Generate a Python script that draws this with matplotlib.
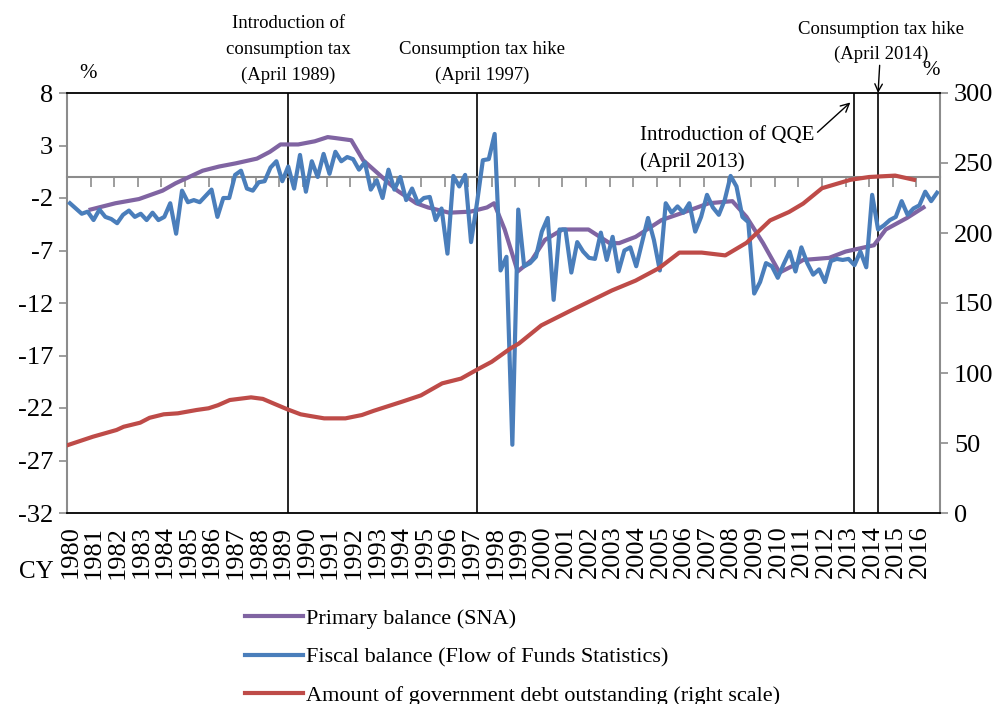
import matplotlib
matplotlib.use('Agg')
import matplotlib.pyplot as plt
import numpy as np

plt.rcParams['font.family'] = ['Liberation Serif', 'DejaVu Serif']
plt.rcParams['axes.unicode_minus'] = False

# fiscal balance (flow of funds), quarterly 1980Q1 - 2016Q4, % of GDP
fiscal = [-2.5, -3.0, -3.5, -3.3, -4.1, -3.1, -3.8, -4.0, -4.4, -3.6, -3.2, -3.8, -3.5, -4.1, -3.4, -4.1,
          -3.8, -2.5, -5.4, -1.3, -2.4, -2.2, -2.4, -1.8, -1.2, -3.8, -2.0, -2.0, 0.2, 0.6,
          -1.1, -1.3, -0.5, -0.4, 0.9, 1.5, -0.4, 1.0, -1.1, 2.1, -1.4, 1.5, 0.0, 2.2, 0.3, 2.4,
          1.5, 1.9, 1.7, 0.7, 1.4, -1.2, -0.3, -2.0, 0.7, -1.2, 0.0, -2.2, -1.1, -2.5,
          -2.0, -1.9, -4.1, -3.0, -7.3, 0.1, -0.9, 0.2, -6.2, -2.5, 1.6, 1.7, 4.1, -8.9, -7.6, -25.5,
          -3.1, -8.5, -8.2, -7.6, -5.2, -3.9, -11.7, -5.0, -5.0, -9.1, -6.2, -7.1, -7.7,
          -7.8, -5.3, -7.9, -5.7, -9.0, -7.0, -6.7, -8.5, -6.2, -3.9, -6.0, -8.9, -2.5, -3.4,
          -2.8, -3.4, -2.5, -5.2, -3.8, -1.7, -2.9, -3.6, -2.2, 0.1, -0.9, -3.8, -4.3, -11.1,
          -10.0, -8.2, -8.5, -9.6, -8.3, -7.1, -9.0, -6.7, -8.2, -9.3, -8.8, -10.0, -8.0, -7.8,
          -7.9, -7.8, -8.4, -7.1, -8.6, -1.7, -5.0, -4.6, -4.1, -3.8, -2.3, -3.6, -3.0, -2.7,
          -1.4, -2.3, -1.5]
fiscal_x = 1980 + (np.arange(len(fiscal)) + 0.5) / 4

# primary balance (SNA), %
primary_x = [1981.0, 1982.05, 1983.05, 1984.05, 1984.6, 1985.75, 1986.45, 1987.15, 1988.05, 1988.6,
             1989.05, 1989.8, 1990.5, 1991.05, 1991.4, 1992.05, 1992.55, 1993.25, 1994.0, 1994.8,
             1995.3, 1996.2, 1997.1, 1997.8, 1998.1, 1998.55, 1999.1, 1999.7, 2000.25, 2001.0,
             2002.1, 2003.0, 2003.4, 2004.1, 2005.2, 2006.1, 2007.2, 2008.2, 2008.8, 2009.5,
             2010.2, 2010.9, 2011.2, 2012.3, 2013.0, 2014.2, 2014.7, 2015.6, 2016.3]
primary = [-3.1, -2.5, -2.1, -1.3, -0.6, 0.6, 1.0, 1.3, 1.75, 2.4,
           3.1, 3.1, 3.4, 3.8, 3.7, 3.5, 1.6, 0.2, -1.3, -2.5,
           -2.9, -3.4, -3.3, -2.9, -2.5, -5.0, -9.0, -7.9, -6.0, -5.0,
           -5.0, -6.3, -6.3, -5.7, -4.1, -3.4, -2.5, -2.3, -3.8, -6.3,
           -9.1, -8.3, -7.9, -7.7, -7.1, -6.5, -5.0, -3.9, -2.9]

# government debt outstanding, % of GDP (right scale)
debt_x = [1980.05, 1981.1, 1982.1, 1982.4, 1983.1, 1983.5, 1984.1, 1984.7, 1985.5, 1986.0,
          1986.4, 1986.9, 1987.8, 1988.3, 1988.8, 1989.35, 1989.9, 1990.3, 1990.9, 1991.8,
          1992.5, 1993.0, 1994.2, 1995.0, 1995.9, 1996.7, 1997.4, 1998.0, 1998.8, 1999.15,
          2000.1, 2001.4, 2002.25, 2003.1, 2004.1, 2005.1, 2005.95, 2006.9, 2007.9, 2008.8,
          2009.8, 2010.6, 2011.2, 2012.0, 2013.2, 2014.0, 2015.1, 2015.9]
debt = [48.6, 54.5, 59.3, 61.6, 64.5, 68.0, 70.5, 71.2, 73.6, 74.8,
        77.0, 80.7, 82.6, 81.5, 77.9, 74.0, 70.5, 69.3, 67.6, 67.6,
        70.0, 73.0, 79.5, 84.0, 92.6, 96.0, 102.6, 108.0, 117.6, 121.0,
        134.0, 145.0, 152.0, 159.0, 166.0, 175.0, 186.0, 186.0, 184.0, 193.0,
        209.0, 215.0, 221.0, 232.0, 238.0, 240.0, 241.0, 238.0]

years = list(range(1980, 2017))
events = [1989.375, 1997.375, 2013.375, 2014.375]

purple = '#8064A2'
blue = '#4A7EBB'
red = '#BE4B48'
grey = '#8C8C8C'

fig = plt.figure(figsize=(10.03, 7.04), dpi=100)
ax = fig.add_axes([67 / 1003, 1 - 513 / 704, (940 - 67) / 1003, 420 / 704])
ax2 = ax.twinx()

for xe in events:
    ax.axvline(xe, color='black', lw=1.2, zorder=1)

ax.plot(primary_x, primary, color=purple, lw=3, zorder=3, label='Primary balance (SNA)')
ax.plot(fiscal_x, fiscal, color=blue, lw=3, zorder=4, label='Fiscal balance (Flow of Funds Statistics)')
ax2.plot(debt_x, debt, color=red, lw=3, label='Amount of government debt outstanding (right scale)')

ax.set_xlim(1980, 2017)
ax.set_ylim(-32, 8)
ax.set_yticks(np.arange(-32, 9, 5))
ax2.set_ylim(0, 300)
ax2.set_yticks(np.arange(0, 301, 50))

# category axis crosses at zero
ax.spines['bottom'].set_position(('data', 0))
ax.spines['bottom'].set_color(grey)
ax.spines['bottom'].set_linewidth(1.5)
ax.spines['bottom'].set_zorder(2)
ax.spines['left'].set_color(grey)
ax.spines['left'].set_linewidth(1.5)
ax.spines['top'].set_visible(False)
ax.spines['right'].set_visible(False)
ax.set_xticks(years)
ax.tick_params(axis='x', direction='out', length=7, width=1.2, color=grey, labelbottom=False)
ax.tick_params(axis='y', direction='out', length=6, width=1.2, color=grey, labelsize=19, pad=4)

ax2.spines['left'].set_visible(False)
ax2.spines['right'].set_color(grey)
ax2.spines['right'].set_linewidth(1.5)
ax2.spines['top'].set_color('black')
ax2.spines['bottom'].set_color('black')
ax2.spines['top'].set_linewidth(1.3)
ax2.spines['bottom'].set_linewidth(1.3)
ax2.tick_params(axis='y', direction='out', length=6, width=1.2, color=grey, labelsize=19, pad=4)

for yr in years:
    ax.text(yr + 0.15, -0.03, str(yr), transform=ax.get_xaxis_transform(), rotation=90,
            ha='center', va='top', fontsize=19)
ax.text(-0.055, -0.14, 'CY', transform=ax.transAxes, ha='left', va='center', fontsize=18)

ax.text(1980.9, 9.0, '%', ha='center', va='bottom', fontsize=15)
ax.text(2016.6, 9.2, '%', ha='center', va='bottom', fontsize=15)

ax.text(1989.375, 8.9, 'Introduction of\nconsumption tax\n(April 1989)', ha='center', va='bottom',
        fontsize=13.5, linespacing=1.65)
ax.text(1997.6, 8.9, 'Consumption tax hike\n(April 1997)', ha='center', va='bottom',
        fontsize=13.5, linespacing=1.65)
ax.annotate('Consumption tax hike\n(April 2014)', xy=(2014.375, 8), xytext=(2014.5, 10.9),
            ha='center', va='bottom', fontsize=13.5, linespacing=1.55, annotation_clip=False,
            arrowprops=dict(arrowstyle='->', color='black', lw=1, shrinkA=0, shrinkB=0))
ax.annotate('Introduction of QQE\n(April 2013)', xy=(2013.2, 7.1), xytext=(2004.3, 4.9),
            ha='left', va='top', fontsize=15, linespacing=1.5,
            arrowprops=dict(arrowstyle='->', color='black', lw=1, shrinkA=0, shrinkB=0,
                            relpos=(1.0, 0.8)))

handles = ax.get_lines()[len(events):] + ax2.get_lines()
fig.legend(handles=handles, labels=[h.get_label() for h in handles], loc='center left',
           bbox_to_anchor=(245 / 1003, 1 - 657 / 704), frameon=False, fontsize=16,
           handlelength=2.6, handletextpad=0.15, labelspacing=0.8, borderpad=0, borderaxespad=0)

fig.savefig('out.png', dpi=100)
